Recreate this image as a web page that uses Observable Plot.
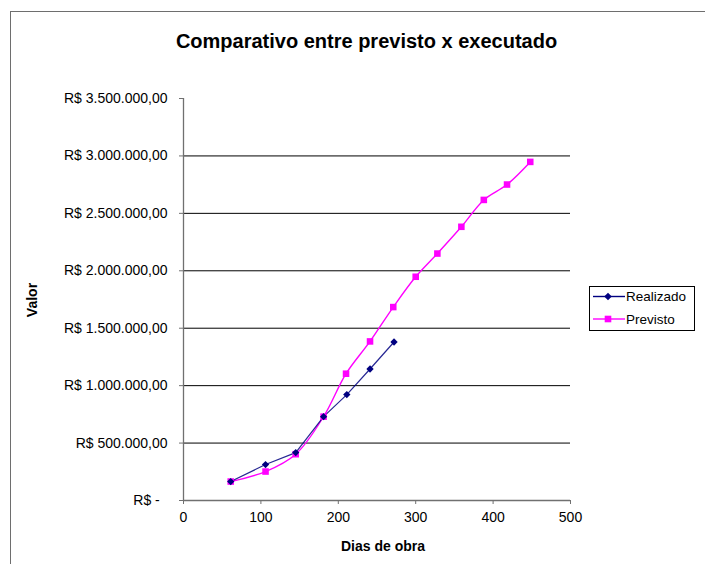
<!DOCTYPE html>
<html>
<head>
<meta charset="utf-8">
<script src="https://cdn.jsdelivr.net/npm/d3@7"></script>
<script src="https://cdn.jsdelivr.net/npm/@observablehq/plot@0.6"></script>
<style>
  html, body { margin: 0; padding: 0; background: #fff; overflow: hidden; }
  #wrap { position: relative; width: 705px; height: 564px; overflow: hidden; font-family: "Liberation Sans", Arial, sans-serif; }
  #frame { position: absolute; left: 10px; top: 11px; width: 720px; height: 600px; border-left: 1.5px solid #6e6e6e; border-top: 1.5px solid #6e6e6e; }
  #chart { position: absolute; left: 0; top: 0; }
  .title { position: absolute; left: 0; width: 733px; top: 29px; text-align: center; font-weight: bold; font-size: 20px; line-height: 24px; color: #000; }
  .ylab { position: absolute; left: 32px; top: 300px; transform: translate(-50%, -50%) rotate(-90deg); font-weight: bold; font-size: 14px; white-space: nowrap; }
  .xlab { position: absolute; left: 383px; top: 546px; transform: translate(-50%, -50%); font-weight: bold; font-size: 14px; white-space: nowrap; }
  #legend { position: absolute; left: 589px; top: 286px; width: 104px; height: 43px; border: 1px solid #000; background: #fff; }
</style>
</head>
<body>
<div id="wrap">
  <div id="frame"></div>
  <div id="chart"></div>
  <div class="title">Comparativo entre previsto x executado</div>
  <div class="ylab">Valor</div>
  <div class="xlab">Dias de obra</div>
  <div id="legend"></div>
</div>
<script>
// ---- Data ----
const diasRealizado  = [61, 106, 145, 181, 211, 241, 272];
const valorRealizado = [165000, 313000, 417000, 730000, 922000, 1145000, 1380000];

const diasPrevisto  = [61, 106, 145, 181, 210, 241, 271, 300, 328, 359, 388, 418, 448];
const valorPrevisto = [165000, 252000, 403000, 730000, 1104000, 1385000, 1684000, 1948000, 2150000, 2383000, 2617000, 2751000, 2948000];

const yTicks = [0, 500000, 1000000, 1500000, 2000000, 2500000, 3000000, 3500000];
const gridValues = [500000, 1000000, 1500000, 2000000, 2500000, 3000000];
const xTicks = [0, 100, 200, 300, 400, 500];

const seriesNames = ["Realizado", "Previsto"];
const seriesColors = ["#000080", "#FF00FF"];

// ---- Tables built from arrays ----
const realizado = diasRealizado.map((d, i) => ({dias: d, valor: valorRealizado[i]}));
const previsto  = diasPrevisto.map((d, i) => ({dias: d, valor: valorPrevisto[i]}));

const br = d3.formatLocale({decimal: ",", thousands: ".", grouping: [3], currency: ["R$ ", ""]});
const fmt = br.format(",.2f");
const yFormat = v => v === 0 ? "R$ -\u00A0\u00A0" : "R$ " + fmt(v);

const chart = Plot.plot({
  width: 705,
  height: 564,
  marginLeft: 183,
  marginRight: 135,
  marginTop: 98,
  marginBottom: 64,
  style: {fontFamily: "'Liberation Sans', Arial, sans-serif", fontSize: "14px", color: "#000", background: "transparent"},
  x: {domain: [0, 500]},
  y: {domain: [0, 3500000]},
  marks: [
    Plot.ruleY(gridValues, {stroke: "#000", strokeWidth: 1}),
    Plot.ruleX([0], {stroke: "#707070", strokeWidth: 1.3}),
    Plot.ruleY([0], {stroke: "#707070", strokeWidth: 1.5}),
    Plot.axisY({ticks: yTicks, tickFormat: yFormat, tickSize: 4, tickPadding: 12, stroke: "#707070", label: null, fontSize: 14, fill: "#000"}),
    Plot.axisX({ticks: xTicks, tickFormat: d => String(d), tickSize: 4, tickPadding: 8, stroke: "#707070", label: null, fontSize: 14, fill: "#000"}),
    Plot.line(previsto, {x: "dias", y: "valor", stroke: seriesColors[1], strokeWidth: 1.4, curve: "catmull-rom"}),
    Plot.line(realizado, {x: "dias", y: "valor", stroke: seriesColors[0], strokeWidth: 1.2, strokeOpacity: 0.85}),
    Plot.dot(previsto, {x: "dias", y: "valor", symbol: "square", r: 3.7, fill: seriesColors[1], stroke: "none"}),
    Plot.dot(realizado, {x: "dias", y: "valor", symbol: "diamond2", r: 3.3, fill: seriesColors[0], stroke: "none"})
  ]
});
document.getElementById("chart").appendChild(chart);

// ---- Legend ----
const ns = "http://www.w3.org/2000/svg";
const lg = document.createElementNS(ns, "svg");
lg.setAttribute("width", 104); lg.setAttribute("height", 43);
lg.style.fontFamily = "'Liberation Sans', Arial, sans-serif";
const rowsY = [9.5, 32];
seriesNames.forEach((name, i) => {
  const y = rowsY[i];
  const line = document.createElementNS(ns, "line");
  line.setAttribute("x1", 3); line.setAttribute("x2", 35);
  line.setAttribute("y1", y); line.setAttribute("y2", y);
  line.setAttribute("stroke", seriesColors[i]); line.setAttribute("stroke-width", 1.4);
  lg.appendChild(line);
  let m;
  if (i === 0) {
    m = document.createElementNS(ns, "path");
    m.setAttribute("d", `M18,${y-3.8}L21.8,${y}L18,${y+3.8}L14.2,${y}Z`);
  } else {
    m = document.createElementNS(ns, "rect");
    m.setAttribute("x", 14.7); m.setAttribute("y", y - 3.3);
    m.setAttribute("width", 6.6); m.setAttribute("height", 6.6);
  }
  m.setAttribute("fill", seriesColors[i]);
  lg.appendChild(m);
  const t = document.createElementNS(ns, "text");
  t.setAttribute("x", 36); t.setAttribute("y", y);
  t.setAttribute("dy", "0.35em");
  t.setAttribute("font-size", "13.5");
  t.textContent = name;
  lg.appendChild(t);
});
document.getElementById("legend").appendChild(lg);
</script>
</body>
</html>
